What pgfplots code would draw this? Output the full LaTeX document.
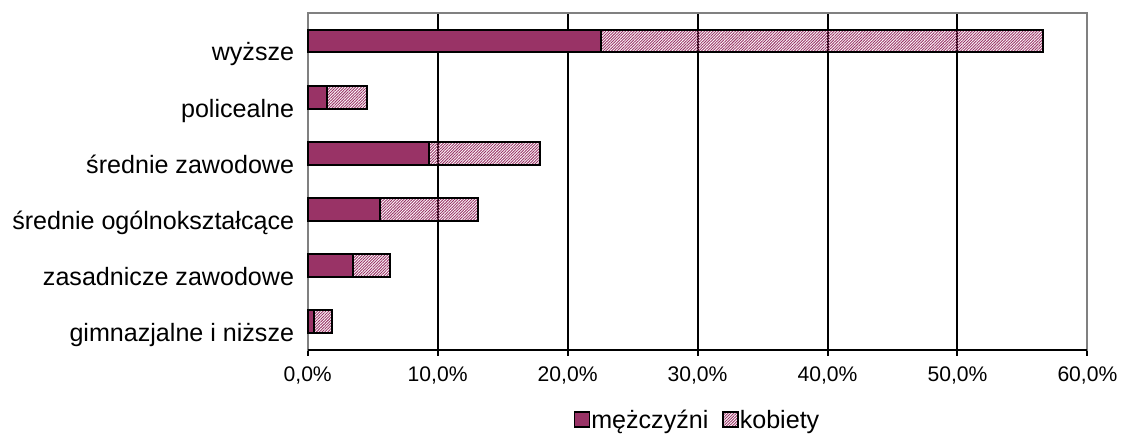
\documentclass[border=0pt]{standalone}
\usepackage{fontspec}
\setmainfont{Liberation Sans}
\usepackage{pgfplots}
\pgfplotsset{compat=1.18}
\usetikzlibrary{patterns.meta}
\definecolor{plum}{HTML}{993366}
\begin{document}
\begin{tikzpicture}
\begin{axis}[
  xbar stacked,
  scale only axis,
  width=391.5pt, height=169pt,
  xmin=0, xmax=60, ymin=-0.5, ymax=5.5,
  bar width=11.5pt,
  xtick={0,10,20,30,40,50,60},
  xticklabels={{0,0\%},{10,0\%},{20,0\%},{30,0\%},{40,0\%},{50,0\%},{60,0\%}},
  ytick={0,1,2,3,4,5},
  yticklabels={gimnazjalne i niższe, zasadnicze zawodowe, średnie ogólnokształcące, średnie zawodowe, policealne, wyższe},
  /pgf/number format/assume math mode=true,
  xticklabel style={font=\fontsize{10.6}{12}\selectfont, anchor=base, yshift=-13pt},
  yticklabel style={font=\fontsize{12.6}{14}\selectfont, anchor=base east, yshift=-10pt, xshift=-0.3pt},
  xtick pos=bottom,
  tick align=outside,
  major tick length=3pt,
  xtick style={black, line width=1pt},
  ytick style={draw=none},
  xmajorgrids,
  major grid style={black, line width=1pt},
  axis line style={draw=gray, line width=1pt},
  clip=false,
  legend style={draw=none, at={(0.5,0)}, anchor=north, yshift=-27pt, legend columns=2,
    font=\fontsize{12.6}{14}\selectfont,
    nodes={inner sep=1pt},
    /tikz/every odd column/.append style={column sep=-0.5pt},
    /tikz/every even column/.append style={column sep=6pt}},
  legend image code/.code={\draw[#1, line width=0.75pt] (0pt,-3.3pt) rectangle (7.5pt,4.2pt);},
]
\addplot[fill=plum, draw=black, line width=1pt] coordinates {(0.45,0) (3.5,1) (5.6,2) (9.35,3) (1.45,4) (22.6,5)};
\addplot[pattern={Lines[angle=45, distance=1pt, line width=0.45pt]}, pattern color=plum, draw=black, line width=1pt] coordinates {(1.45,0) (2.8,1) (7.5,2) (8.55,3) (3.15,4) (34.0,5)};
\legend{mężczyźni, kobiety}
\draw[black, line width=1pt] (rel axis cs:0,0) -- (rel axis cs:1,0);
\end{axis}
\path (current axis.south west) ++(-154.5pt,-41.5pt) rectangle ++(562pt,217pt);
\end{tikzpicture}
\end{document}
